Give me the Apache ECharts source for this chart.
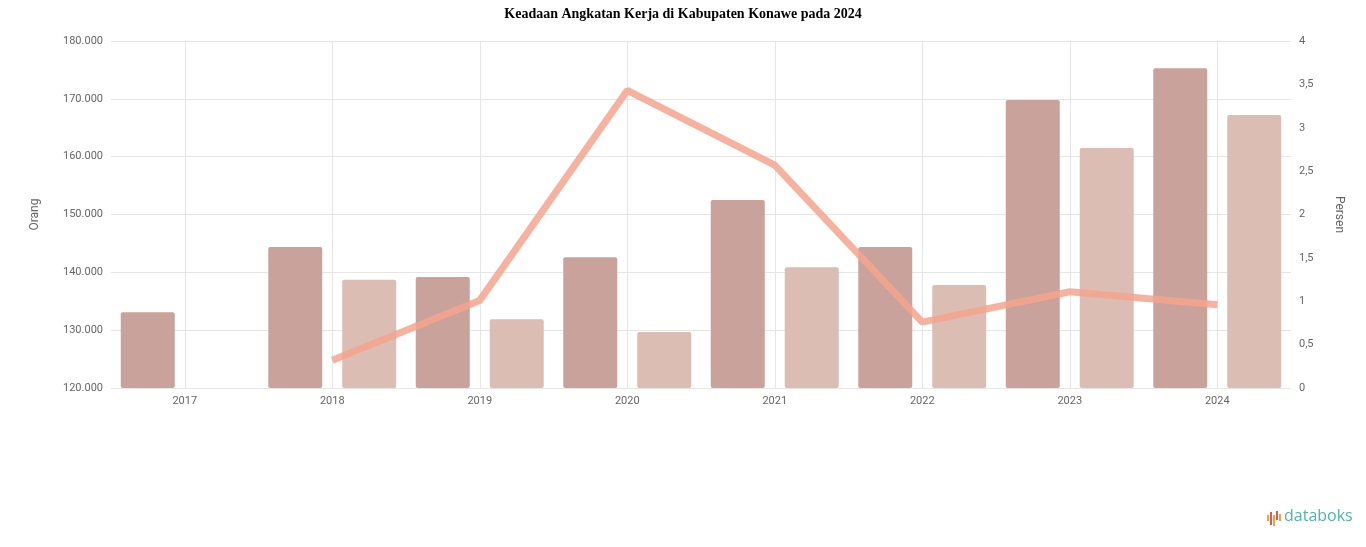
<!DOCTYPE html>
<html>
<head>
<meta charset="utf-8">
<script src="https://cdn.jsdelivr.net/npm/echarts@6/dist/echarts.min.js"></script>
<style>
html,body{margin:0;padding:0;background:#fff;}
#chart{width:1366px;height:547px;}
</style>
</head>
<body>
<div id="chart"></div>
<script>
const years = ['2017','2018','2019','2020','2021','2022','2023','2024'];
const angkatanKerja = [133100, 144400, 139200, 142600, 152500, 144400, 169800, 175300];
const bekerja = [null, 138700, 131900, 129700, 140900, 137800, 161500, 167200];
const tpt = [null, 0.32, 1.01, 3.43, 2.57, 0.76, 1.11, 0.96];
const leftTicks = {min: 120000, max: 180000, interval: 10000};
const rightTicks = {min: 0, max: 4, interval: 0.5};

const chart = echarts.init(document.getElementById('chart'));
const fmtNum = v => String(v).replace(/\B(?=(\d{3})+(?!\d))/g, '.');
chart.setOption({
  animation: false,
  title: {
    text: 'Keadaan Angkatan Kerja di Kabupaten Konawe pada 2024',
    left: 'center', top: 2,
    textStyle: {fontFamily: 'Liberation Serif', fontWeight: 'bold', fontSize: 14, color: '#000'}
  },
  grid: {left: 111, right: 75, top: 41, bottom: 159},
  xAxis: {
    type: 'category', data: years,
    axisLine: {show: false}, axisTick: {show: false},
    axisLabel: {color: '#666', fontSize: 11, margin: 8, fontFamily: 'Roboto'},
    splitLine: {show: false}
  },
  yAxis: [{
    type: 'value', name: 'Orang', nameLocation: 'middle', nameGap: 70, nameRotate: 90,
    nameTextStyle: {color: '#666', fontSize: 12, fontFamily: 'Roboto'},
    min: leftTicks.min, max: leftTicks.max, interval: leftTicks.interval,
    axisLabel: {color: '#666', fontSize: 11, fontFamily: 'Roboto', formatter: fmtNum},
    splitLine: {lineStyle: {color: '#e6e6e6'}},
    axisLine: {show: false}, axisTick: {show: false}
  }, {
    type: 'value', name: 'Persen', nameLocation: 'middle', nameGap: 42, nameRotate: -90,
    nameTextStyle: {color: '#666', fontSize: 12, fontFamily: 'Roboto'},
    min: rightTicks.min, max: rightTicks.max, interval: rightTicks.interval,
    axisLabel: {color: '#666', fontSize: 11, fontFamily: 'Roboto', formatter: v => String(v).replace('.', ',')},
    splitLine: {show: false},
    axisLine: {show: false}, axisTick: {show: false}
  }],
  series: [{
    name: 'grid', type: 'line', data: years.map(() => null), z: 1, silent: true,
    symbol: 'none',
    markLine: {
      silent: true, symbol: 'none', label: {show: false},
      lineStyle: {color: '#e6e6e6', type: 'solid', width: 1},
      data: years.map(y => ({xAxis: y}))
    }
  }, {
    name: 'Angkatan Kerja', type: 'bar', data: angkatanKerja,
    barWidth: 54, barGap: '37%',
    itemStyle: {color: '#c9a29b', borderRadius: [2, 2, 2, 2]},
    z: 3
  }, {
    name: 'Bekerja', type: 'bar', data: bekerja,
    barWidth: 54,
    itemStyle: {color: '#dcbdb3', borderRadius: [2, 2, 2, 2]},
    z: 3
  }, {
    name: 'TPT', type: 'line', yAxisIndex: 1, data: tpt,
    symbol: 'none', connectNulls: false,
    lineStyle: {color: '#f5a48d', width: 7, opacity: 0.85},
    z: 5
  }],
  graphic: [
    {type: 'rect', shape: {x: 1267, y: 515, width: 2, height: 6}, style: {fill: '#f0a04b'}},
    {type: 'rect', shape: {x: 1270, y: 512, width: 2, height: 13}, style: {fill: '#e8573f'}},
    {type: 'rect', shape: {x: 1273, y: 515, width: 2, height: 11}, style: {fill: '#f0a04b'}},
    {type: 'rect', shape: {x: 1276, y: 511, width: 2, height: 9}, style: {fill: '#e8573f'}},
    {type: 'rect', shape: {x: 1279, y: 514, width: 2, height: 7}, style: {fill: '#f0a04b'}},
    {type: 'text', left: 1284, top: 508, style: {text: 'databoks', fill: '#4fb3a9', font: '500 16px "Open Sans"'}}
  ]
});
</script>
</body>
</html>
